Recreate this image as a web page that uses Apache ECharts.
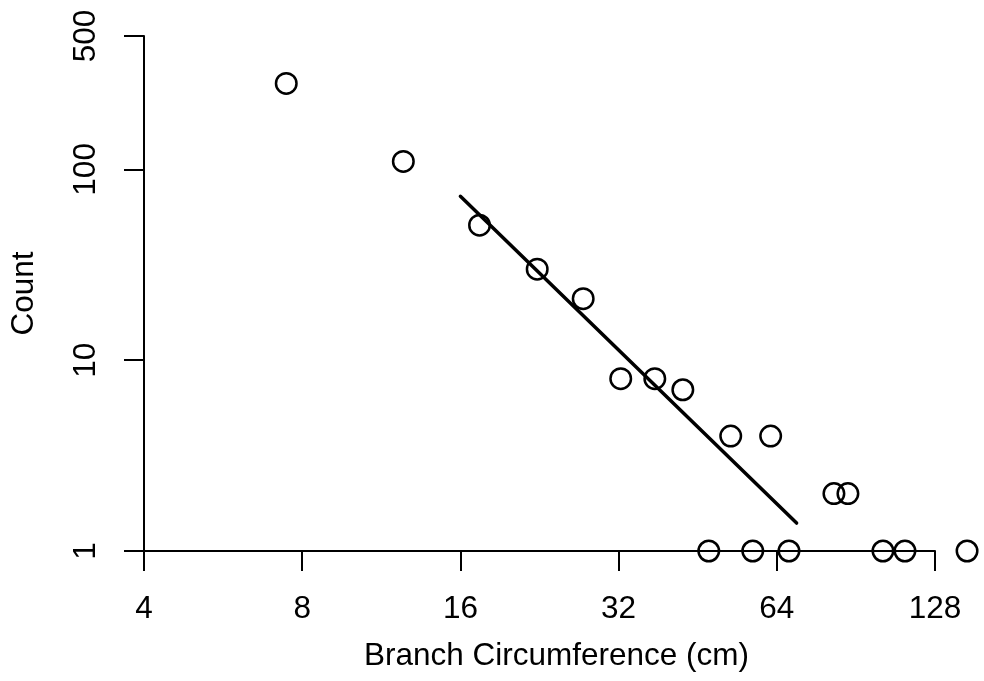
<!DOCTYPE html>
<html>
<head>
<meta charset="utf-8">
<style>
  html, body { margin: 0; padding: 0; background: #fff; }
  #chart { width: 984px; height: 681px; }
</style>
<script src="https://cdn.jsdelivr.net/npm/echarts@6/dist/echarts.min.js"></script>
</head>
<body>
<div id="chart"></div>
<script>
// Branch circumference (cm) and number of branches in each size class
const circumference = [7.46, 12.46, 17.4, 22.4, 27.4, 32.3, 37.5, 42.4, 52.3, 62.3,
                       47.5, 57.6, 67.5, 82.2, 87.4, 101.9, 112.2, 147.3];
const counts = [282, 110, 51, 30, 21, 8, 8, 7, 4, 4,
                1, 1, 1, 2, 2, 1, 1, 1];

// Fitted power-law line (log-log), endpoints
const fitX = [16, 69.8];
const fitY = [72.3, 1.4];

// Axis tick labels
const xTicks = [4, 8, 16, 32, 64, 128];
const yTicks = [1, 10, 100, 500];

const FONT = "'Liberation Sans', Arial, Helvetica, sans-serif";
const textStyle = { color: '#000', fontFamily: FONT, fontSize: 31.5, lineHeight: 31.5 };

const chart = echarts.init(document.getElementById('chart'), null, { renderer: 'canvas' });

chart.setOption({
  animation: false,
  backgroundColor: '#fff',
  grid: { left: 144, right: 49, top: 36, bottom: 130, containLabel: false },
  xAxis: {
    type: 'log',
    logBase: 2,
    min: 4,
    max: 128,
    name: 'Branch Circumference (cm)',
    nameLocation: 'middle',
    nameGap: 90,
    // title is centred on the full plotting region, which reaches past the last tick
    nameTextStyle: Object.assign({ padding: [0, 0, 0, 34] }, textStyle),
    axisLine: { show: true, lineStyle: { color: '#000', width: 2 } },
    axisTick: { show: true, length: 20, inside: false, customValues: xTicks,
                lineStyle: { color: '#000', width: 2 } },
    axisLabel: Object.assign({ margin: 43, customValues: xTicks,
                formatter: v => String(Math.round(v)) }, textStyle),
    splitLine: { show: false },
    minorTick: { show: false }
  },
  yAxis: {
    type: 'log',
    logBase: 10,
    min: 1,
    max: 500,
    name: 'Count',
    nameLocation: 'middle',
    nameGap: 104,
    nameRotate: 90,
    nameTextStyle: textStyle,
    axisLine: { show: true, lineStyle: { color: '#000', width: 2 } },
    axisTick: { show: true, length: 20, inside: false, customValues: yTicks,
                lineStyle: { color: '#000', width: 2 } },
    axisLabel: Object.assign({ margin: 42, rotate: 90, customValues: yTicks,
                formatter: v => String(Math.round(v)) }, textStyle),
    splitLine: { show: false },
    minorTick: { show: false }
  },
  series: [
    {
      type: 'scatter',
      clip: false,
      symbol: 'circle',
      symbolSize: 20.5,
      itemStyle: { color: 'rgba(0,0,0,0)', borderColor: '#000', borderWidth: 2.5, opacity: 1 },
      data: circumference.map((c, i) => [c, counts[i]]),
      z: 3
    },
    {
      type: 'line',
      clip: false,
      symbol: 'none',
      lineStyle: { color: '#000', width: 3.5, cap: 'round', opacity: 1 },
      data: fitX.map((x, i) => [x, fitY[i]]),
      z: 4
    }
  ]
});
</script>
</body>
</html>
